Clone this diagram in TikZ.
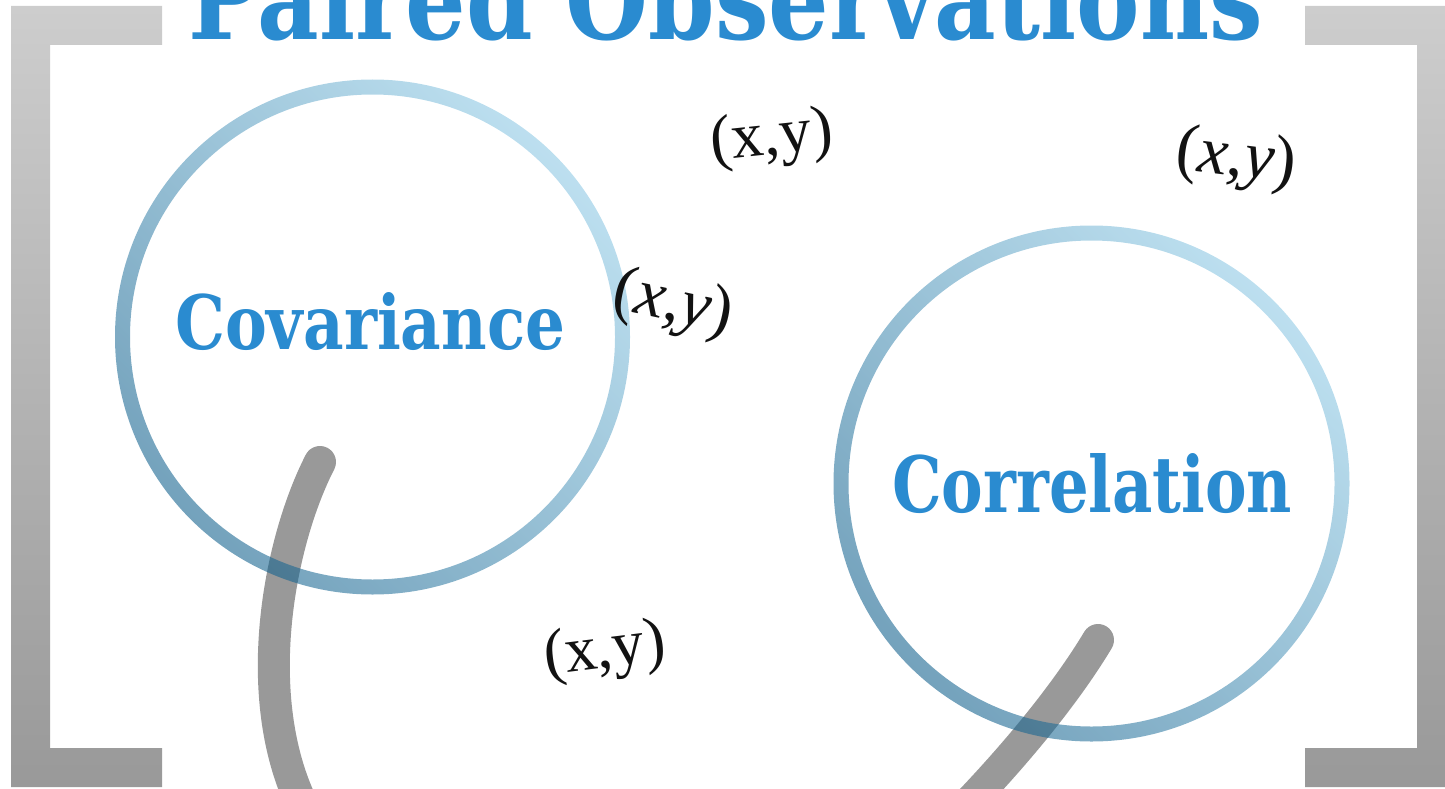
\documentclass[tikz,border=0pt]{standalone}
\usepackage{fontspec}
\setmainfont{Liberation Serif}
\newfontfamily\headfont{DejaVu Serif}
\definecolor{titleblue}{RGB}{42,139,208}
\definecolor{ringdark}{RGB}{15,95,140}
\definecolor{ringlight}{RGB}{140,200,228}
\definecolor{brtop}{RGB}{205,205,205}
\definecolor{brbot}{RGB}{153,153,153}
\definecolor{stemgray}{RGB}{153,153,153}
\begin{document}
\begin{tikzpicture}[x=1pt,y=-1pt,
  bracket/.style={top color=brtop,bottom color=brbot,draw=none},
  ring/.style={even odd rule,left color=ringdark,right color=ringlight,shading angle=135,fill opacity=0.58},
  stemline/.style={draw=stemgray,line width=32pt,line cap=round},
  pair/.style={inner sep=0pt,font=\fontsize{64}{70}\selectfont,text=black!93},
  ipair/.style={pair,font=\fontsize{67}{72}\selectfont},
  head/.style={inner sep=0pt,anchor=base west,text=titleblue,font=\headfont\bfseries}]
\useasboundingbox (0,0) rectangle (1445,789);
\clip (0,0) rectangle (1445,789);
% brackets
\shade[bracket] (11,6) -- (162,6) -- (162,45) -- (50,45) -- (50,748) -- (162,748) -- (162,787) -- (11,787) -- cycle;
\shade[bracket] (1456,6) -- (1305,6) -- (1305,45) -- (1417,45) -- (1417,748) -- (1305,748) -- (1305,787) -- (1456,787) -- cycle;
% stems
\coordinate (s1) at (320,462);
\coordinate (e1) at (300,800);
\coordinate (s2) at (1098,640);
\coordinate (e2) at (962,810);
\draw[stemline] (s1) .. controls (280,540) and (250,690) .. (e1);
\draw[stemline] (s2) .. controls (1068,690) and (1020,750) .. (e2);
% rings
\coordinate (cov) at (372.5,337);
\coordinate (cor) at (1091.5,483.5);
\shade[ring] (cov) circle[radius=257.5] (cov) circle[radius=242.5];
\shade[ring] (cor) circle[radius=258] (cor) circle[radius=243];
% titles
\node[head] (title) at (188,40) {\resizebox{1075pt}{86pt}{Paired Observations}};
\node[head] (covtxt) at (175,349) {\resizebox{390pt}{57pt}{Covariance}};
\node[head] (cortxt) at (892,512) {\resizebox{400pt}{59pt}{Correlation}};
% pairs
\node[pair,rotate=6] (p1) at (772,139) {(x,y)};
\node[ipair,rotate=-7] (p2) at (1236,160) {(\textit{x},\textit{y})};
\node[ipair,rotate=-12] (p3) at (673,305) {(\textit{x},\textit{y})};
\node[pair,rotate=7] (p4) at (605,652) {(x,y)};
\end{tikzpicture}
\end{document}
